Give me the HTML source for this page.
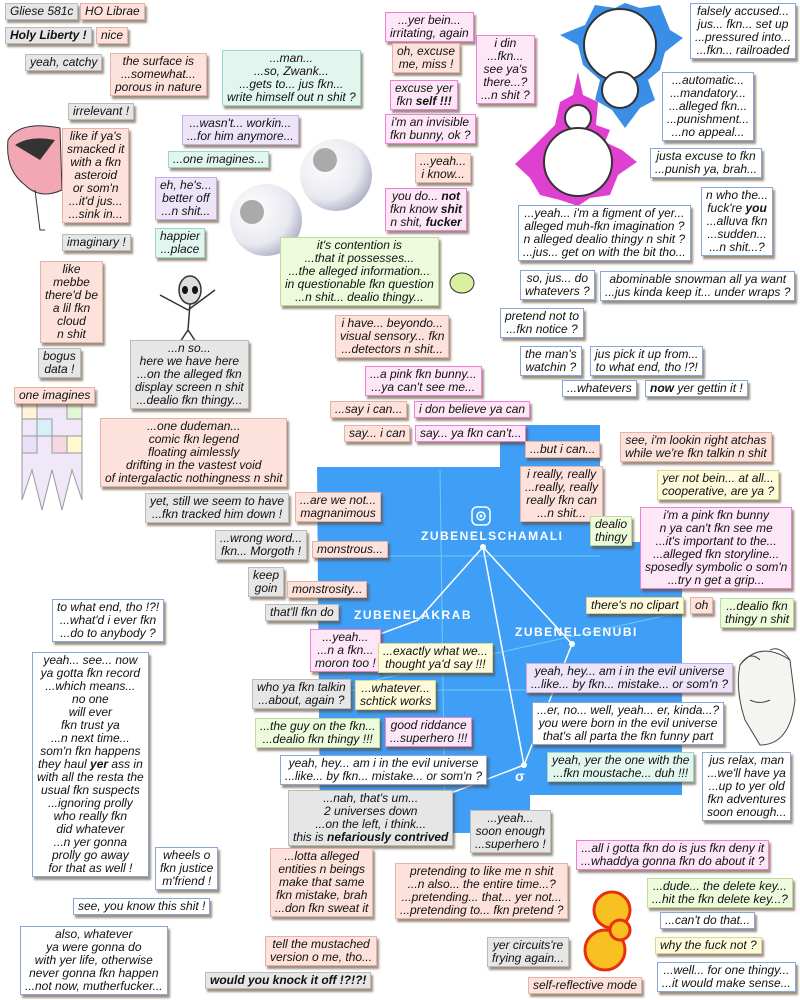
<!DOCTYPE html>
<html><head><meta charset="utf-8"><style>
body{margin:0;width:800px;height:1000px;position:relative;background:#fff;overflow:hidden;font-family:"Liberation Sans",sans-serif}
.b{position:absolute;font-style:italic;font-size:12px;line-height:13px;padding:1px 4px;text-align:center;white-space:nowrap;border:1px solid #bbb;box-shadow:2px 3px 2px rgba(90,70,50,.6);color:#111}
.g{background:#e6e6e6;border-color:#bbb}
.p{background:#fde2dc;border-color:#e4b2a8}
.k{background:#fde6f6;border-color:#ee7fd2}
.y{background:#fdfbdc;border-color:#ddd590}
.n{background:#eefadc;border-color:#bcdc9c}
.l{background:#ede4f8;border-color:#c4aee6}
.c{background:#e2f6f0;border-color:#9cd6c6}
.w{background:#fff;border-color:#8aa6d6}
svg{position:absolute;left:0;top:0}
</style></head><body>
<svg width="800" height="1000">
<polygon points="317,467 500,467 500,425 600,425 600,542 682,542 682,795 530,795 530,833 320,833" fill="#3f9ef6"/>
<g stroke="#7fe0f0" stroke-width="1" opacity=".7">
<line x1="317" y1="556" x2="600" y2="556"/><line x1="440" y1="470" x2="445" y2="830"/>
<line x1="330" y1="690" x2="682" y2="612"/><line x1="317" y1="690" x2="682" y2="690"/>
</g>
<g stroke="#fff" stroke-width="1.5" fill="none">
<line x1="483" y1="547" x2="418" y2="620"/><line x1="418" y1="620" x2="345" y2="647"/>
<line x1="483" y1="547" x2="572" y2="644"/><line x1="483" y1="547" x2="524" y2="765"/>
<line x1="572" y1="644" x2="524" y2="765"/><line x1="524" y1="765" x2="425" y2="803"/>
<rect x="472" y="507" width="18" height="18" rx="5"/><circle cx="481" cy="516" r="4"/>
</g>
<circle cx="481" cy="516" r="1.5" fill="#fff"/>
<circle cx="483" cy="547" r="3" fill="#fff"/><circle cx="572" cy="644" r="3" fill="#fff"/><circle cx="524" cy="765" r="3" fill="#fff"/>
<g fill="#fff" font-family="Liberation Sans" font-weight="bold" font-size="12" letter-spacing="1.5">
<text x="421" y="540">ZUBENELSCHAMALI</text>
<text x="354" y="619">ZUBENELAKRAB</text>
<text x="515" y="636">ZUBENELGENUBI</text>
<text x="515" y="781" font-size="14">σ</text>
</g>
<!-- fractals -->
<g fill="#3a8ee6">
<polygon points="560,35 585,25 595,5 615,8 625,3 640,8 660,5 670,30 683,38 665,52 660,70 648,80 655,100 640,108 625,128 612,110 595,100 600,80 583,65 578,45"/>
</g>
<g fill="#e040d0">
<polygon points="578,72 583,95 598,102 596,125 610,130 605,142 622,150 637,162 618,175 610,195 590,198 578,206 560,200 540,195 530,178 515,164 530,150 545,135 555,125 560,102 573,95"/>
</g>
<g stroke-width="2" stroke="#333" fill="#fff">
<circle cx="620" cy="45" r="36"/><circle cx="620" cy="90" r="18"/><circle cx="578" cy="118" r="13"/><circle cx="578" cy="162" r="34"/>
</g>
<!-- orange fractal -->
<g fill="#f8c020" stroke="#e83010" stroke-width="3">
<circle cx="612" cy="910" r="18"/><circle cx="605" cy="950" r="20"/><circle cx="620" cy="930" r="10"/>
</g>
<!-- spheres -->
<defs><radialGradient id="s" cx=".35" cy=".35" r=".7"><stop offset="0" stop-color="#fff"/><stop offset=".7" stop-color="#e8e8f0"/><stop offset="1" stop-color="#b0b4c8"/></radialGradient></defs>
<circle cx="336" cy="175" r="36" fill="url(#s)"/><circle cx="325" cy="160" r="12" fill="#aaa"/>
<circle cx="266" cy="220" r="36" fill="url(#s)"/><circle cx="252" cy="212" r="12" fill="#aaa"/>
<!-- pink hat -->
<path d="M8,140 Q20,120 60,128 L62,190 Q40,200 25,185 Q5,170 8,140Z" fill="#f2a8b4" stroke="#333"/>
<path d="M15,145 Q30,135 55,140 L40,160Z" fill="#333"/>
<path d="M35,190 L40,230 L45,230" stroke="#333" fill="none"/>
<!-- alien -->
<g stroke="#333" fill="#ddd" stroke-width="1.5">
<ellipse cx="190" cy="290" rx="11" ry="14"/><path d="M190,304 L188,330 M188,310 L160,295 M188,310 L215,290 M188,330 L178,345 M188,330 L198,345" fill="none"/>
</g>
<ellipse cx="185" cy="290" rx="3" ry="4" fill="#111"/><ellipse cx="195" cy="290" rx="3" ry="4" fill="#111"/>
<!-- turtle -->
<ellipse cx="462" cy="283" rx="12" ry="10" fill="#d8f0a0" stroke="#333"/>
<!-- face -->
<path d="M740,665 Q760,640 790,660 L795,700 Q790,745 760,745 L745,720 Q735,690 740,665Z" fill="#f4f4f0" stroke="#444"/>
<path d="M740,665 Q750,650 760,660 M770,650 Q780,645 790,660 M750,700 Q760,705 770,700" fill="none" stroke="#444"/>
<!-- grid -->
<g stroke="#999" stroke-width="1">
<path d="M22,402 H82 V500 L72,470 L62,510 L52,470 L42,510 L32,470 L22,500Z" fill="#f0e8f8"/>
<rect x="22" y="402" width="15" height="17" fill="#fff4d8"/><rect x="37" y="419" width="15" height="17" fill="#d8f0f8"/><rect x="52" y="436" width="15" height="17" fill="#f8d8e0"/><rect x="67" y="402" width="15" height="17" fill="#e0f8d8"/><rect x="22" y="436" width="15" height="17" fill="#e8e0f8"/><rect x="67" y="436" width="15" height="17" fill="#fff8d0"/>
</g>
</svg>

<div class="b g" style="left:5px;top:3px">Gliese 581c</div>
<div class="b p" style="left:80px;top:3px">HO Librae</div>
<div class="b g" style="left:5px;top:27px;font-weight:bold">Holy Liberty !</div>
<div class="b p" style="left:96px;top:27px">nice</div>
<div class="b g" style="left:25px;top:54px">yeah, catchy</div>
<div class="b p" style="left:110px;top:53px">the surface is<br>...somewhat...<br>porous in nature</div>
<div class="b g" style="left:68px;top:103px">irrelevant !</div>
<div class="b p" style="left:62px;top:128px">like if ya's<br>smacked it<br>with a fkn<br>asteroid<br>or som'n<br>...it'd jus...<br>...sink in...</div>
<div class="b g" style="left:62px;top:234px">imaginary !</div>
<div class="b p" style="left:40px;top:261px">like<br>mebbe<br>there'd be<br>a lil fkn<br>cloud<br>n shit</div>
<div class="b g" style="left:38px;top:348px">bogus<br>data !</div>
<div class="b p" style="left:14px;top:387px">one imagines</div>

<div class="b c" style="left:222px;top:50px">...man...<br>...so, Zwank...<br>...gets to... jus fkn...<br>write himself out n shit ?</div>
<div class="b l" style="left:182px;top:115px">...wasn't... workin...<br>...for him anymore...</div>
<div class="b c" style="left:168px;top:151px">...one imagines...</div>
<div class="b l" style="left:155px;top:177px">eh, he's...<br>better off<br>...n shit...</div>
<div class="b c" style="left:155px;top:228px">happier<br>...place</div>
<div class="b g" style="left:130px;top:340px">...n so...<br>here we have here<br>...on the alleged fkn<br>display screen n shit<br>...dealio fkn thingy...</div>
<div class="b p" style="left:100px;top:418px">...one dudeman...<br>comic fkn legend<br>floating aimlessly<br>drifting in the vastest void<br>of intergalactic nothingness n shit</div>
<div class="b g" style="left:145px;top:493px">yet, still we seem to have<br>...fkn tracked him down !</div>
<div class="b p" style="left:295px;top:492px">...are we not...<br>magnanimous</div>
<div class="b g" style="left:215px;top:530px">...wrong word...<br>fkn... Morgoth !</div>
<div class="b p" style="left:312px;top:541px">monstrous...</div>
<div class="b g" style="left:248px;top:567px">keep<br>goin</div>
<div class="b p" style="left:287px;top:581px">monstrosity...</div>
<div class="b g" style="left:265px;top:604px">that'll fkn do</div>
<div class="b k" style="left:310px;top:629px">...yeah...<br>...n a fkn...<br>moron too !</div>
<div class="b y" style="left:378px;top:643px">...exactly what we...<br>thought ya'd say !!!</div>
<div class="b g" style="left:252px;top:679px">who ya fkn talkin<br>...about, again ?</div>
<div class="b y" style="left:355px;top:680px">...whatever...<br>schtick works</div>
<div class="b n" style="left:255px;top:718px">...the guy on the fkn...<br>...dealio fkn thingy !!!</div>
<div class="b k" style="left:385px;top:717px">good riddance<br>...superhero !!!</div>
<div class="b w" style="left:280px;top:755px">yeah, hey... am i in the evil universe<br>...like... by fkn... mistake... or som'n ?</div>
<div class="b g" style="left:288px;top:790px">...nah, that's um...<br>2 universes down<br>...on the left, i think...<br>this is <b>nefariously contrived</b></div>
<div class="b g" style="left:470px;top:810px">...yeah...<br>soon enough<br>...superhero !</div>
<div class="b p" style="left:270px;top:848px">...lotta alleged<br>entities n beings<br>make that same<br>fkn mistake, brah<br>...don fkn sweat it</div>
<div class="b p" style="left:395px;top:863px">pretending to like me n shit<br>...n also... the entire time...?<br>...pretending... that... yer not...<br>...pretending to... fkn pretend ?</div>
<div class="b p" style="left:265px;top:936px">tell the mustached<br>version o me, tho...</div>
<div class="b g" style="left:487px;top:937px">yer circuits're<br>frying again...</div>
<div class="b g" style="left:205px;top:972px;font-weight:bold">would you knock it off !?!?!</div>
<div class="b p" style="left:528px;top:977px">self-reflective mode</div>

<div class="b w" style="left:52px;top:599px">to what end, tho !?!<br>...what'd i ever fkn<br>...do to anybody ?</div>
<div class="b w" style="left:32px;top:652px">yeah... see... now<br>ya gotta fkn record<br>...which means...<br>no one<br>will ever<br>fkn trust ya<br>...n next time...<br>som'n fkn happens<br>they haul <b>yer</b> ass in<br>with all the resta the<br>usual fkn suspects<br>...ignoring prolly<br>who really fkn<br>did whatever<br>...n yer gonna<br>prolly go away<br>for that as well !</div>
<div class="b w" style="left:155px;top:847px">wheels o<br>fkn justice<br>m'friend !</div>
<div class="b w" style="left:73px;top:898px">see, you know this shit !</div>
<div class="b w" style="left:20px;top:926px">also, whatever<br>ya were gonna do<br>with yer life, otherwise<br>never gonna fkn happen<br>...not now, mutherfucker...</div>

<div class="b k" style="left:385px;top:12px">...yer bein...<br>irritating, again</div>
<div class="b p" style="left:392px;top:43px">oh, excuse<br>me, miss !</div>
<div class="b k" style="left:476px;top:35px">i din<br>...fkn...<br>see ya's<br>there...?<br>...n shit ?</div>
<div class="b k" style="left:390px;top:80px">excuse yer<br>fkn <b>self !!!</b></div>
<div class="b k" style="left:385px;top:114px">i'm an invisible<br>fkn bunny, ok ?</div>
<div class="b p" style="left:415px;top:153px">...yeah...<br>i know...</div>
<div class="b k" style="left:385px;top:188px">you do... <b>not</b><br>fkn know <b>shit</b><br>n shit, <b>fucker</b></div>
<div class="b n" style="left:280px;top:237px">it's contention is<br>...that it possesses...<br>...the alleged information...<br>in questionable fkn question<br>...n shit... dealio thingy...</div>
<div class="b p" style="left:335px;top:315px">i have... beyondo...<br>visual sensory... fkn<br>...detectors n shit...</div>
<div class="b k" style="left:365px;top:366px">...a pink fkn bunny...<br>...ya can't see me...</div>
<div class="b p" style="left:330px;top:401px">...say i can...</div>
<div class="b k" style="left:414px;top:401px">i don believe ya can</div>
<div class="b p" style="left:344px;top:425px">say... i can</div>
<div class="b k" style="left:415px;top:425px">say... ya fkn can't...</div>

<div class="b w" style="left:690px;top:3px">falsely accused...<br>jus... fkn... set up<br>...pressured into...<br>...fkn... railroaded</div>
<div class="b w" style="left:662px;top:72px">...automatic...<br>...mandatory...<br>...alleged fkn...<br>...punishment...<br>...no appeal...</div>
<div class="b w" style="left:650px;top:148px">justa excuse to fkn<br>...punish ya, brah...</div>
<div class="b w" style="left:701px;top:187px">n who the...<br>fuck're <b>you</b><br>...alluva fkn<br>...sudden...<br>...n shit...?</div>
<div class="b w" style="left:518px;top:205px">...yeah... i'm a figment of yer...<br>alleged muh-fkn imagination ?<br>n alleged dealio thingy n shit ?<br>...jus... get on with the bit tho...</div>
<div class="b w" style="left:520px;top:270px">so, jus... do<br>whatevers ?</div>
<div class="b w" style="left:600px;top:271px">abominable snowman all ya want<br>...jus kinda keep it... under wraps ?</div>
<div class="b w" style="left:500px;top:308px">pretend not to<br>...fkn notice ?</div>
<div class="b w" style="left:520px;top:346px">the man's<br>watchin ?</div>
<div class="b w" style="left:590px;top:346px">jus pick it up from...<br>to what end, tho !?!</div>
<div class="b w" style="left:562px;top:380px">...whatevers</div>
<div class="b w" style="left:645px;top:380px"><b>now</b> yer gettin it !</div>
<div class="b p" style="left:620px;top:432px">see, i'm lookin right atchas<br>while we're fkn talkin n shit</div>
<div class="b p" style="left:525px;top:441px">...but i can...</div>
<div class="b p" style="left:520px;top:466px">i really, really<br>...really, really<br>really fkn can<br>...n shit...</div>
<div class="b y" style="left:657px;top:470px">yer not bein... at all...<br>cooperative, are ya ?</div>
<div class="b n" style="left:590px;top:516px">dealio<br>thingy</div>
<div class="b k" style="left:640px;top:507px">i'm a pink fkn bunny<br>n ya can't fkn see me<br>...it's important to the...<br>...alleged fkn storyline...<br>sposedly symbolic o som'n<br>...try n get a grip...</div>
<div class="b y" style="left:586px;top:597px">there's no clipart</div>
<div class="b p" style="left:690px;top:597px">oh</div>
<div class="b n" style="left:720px;top:598px">...dealio fkn<br>thingy n shit</div>
<div class="b l" style="left:526px;top:663px">yeah, hey... am i in the evil universe<br>...like... by fkn... mistake... or som'n ?</div>
<div class="b w" style="left:532px;top:702px">...er, no... well, yeah... er, kinda...?<br>you were born in the evil universe<br>that's all parta the fkn funny part</div>
<div class="b c" style="left:547px;top:752px">yeah, yer the one with the<br>...fkn moustache... duh !!!</div>
<div class="b w" style="left:702px;top:752px">jus relax, man<br>...we'll have ya<br>...up to yer old<br>fkn adventures<br>soon enough...</div>
<div class="b k" style="left:576px;top:840px">...all i gotta fkn do is jus fkn deny it<br>...whaddya gonna fkn do about it ?</div>
<div class="b n" style="left:647px;top:878px">...dude... the delete key...<br>...hit the fkn delete key...?</div>
<div class="b w" style="left:660px;top:912px">...can't do that...</div>
<div class="b y" style="left:655px;top:937px">why the fuck not ?</div>
<div class="b w" style="left:657px;top:962px">...well... for one thingy...<br>...it would make sense...</div>
</body></html>
